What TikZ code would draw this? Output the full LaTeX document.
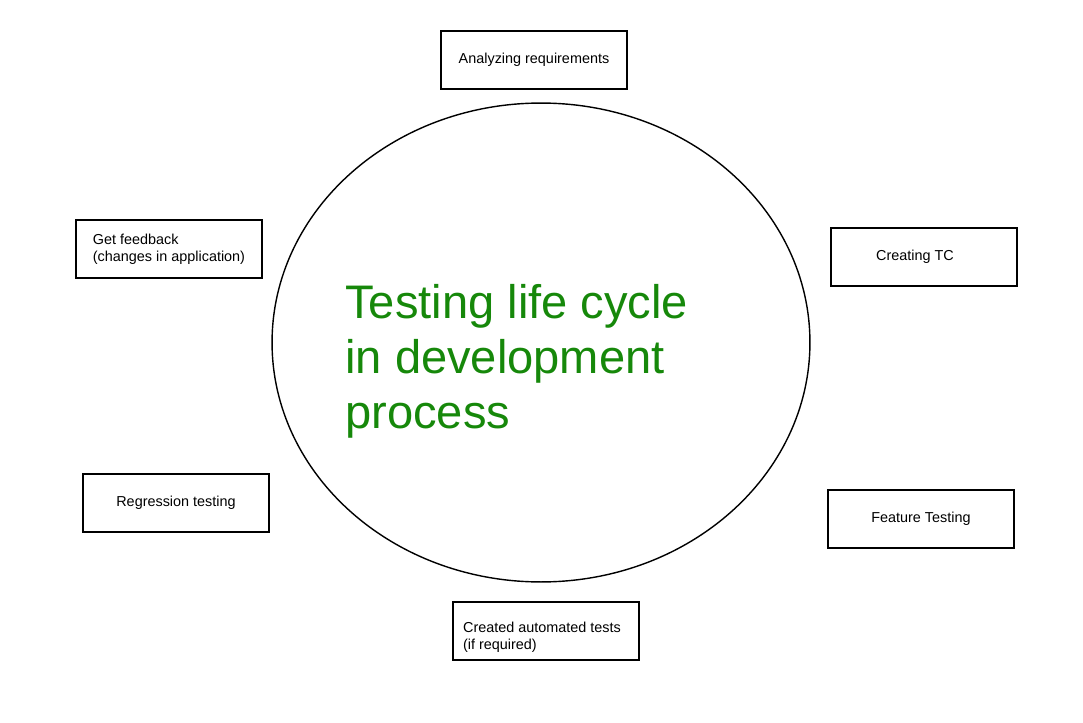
\documentclass[tikz,border=0pt]{standalone}
\usepackage{fontspec}
\setmainfont{Liberation Sans}
\usetikzlibrary{shapes.geometric}
\definecolor{lifegreen}{RGB}{22,136,10}

\begin{document}
\begin{tikzpicture}[
x=0.02cm, y=-0.02cm,
stagebox/.style={rectangle, draw, line width=1pt, minimum width=3.72cm, minimum height=1.16cm, align=left, font=\fontsize{8.2}{9.7}\selectfont},
stagetext/.style={align=left, inner sep=0pt, font=\fontsize{8.2}{9.7}\selectfont},
cycle/.style={ellipse, draw, line width=0.8pt, minimum width=10.76cm, minimum height=9.58cm}
]
\useasboundingbox (0,0) rectangle (1083,723);

\node[cycle] (lifecycle) at (541,342.5) {};
\node[anchor=west, inner sep=0pt, align=left, text=lifegreen, font=\fontsize{26.8}{31.3}\selectfont] (title) at (345,361) {Testing life cycle\\in development\\process};

\node[stagebox] (analyze) at (534,60) {Analyzing requirements};
\node[stagebox, label={[stagetext, xshift=-0.18cm]center:Creating TC}] (creatingtc) at (924,257) {};
\node[stagebox] (feature) at (921,519) {Feature Testing};
\node[stagebox, label={[stagetext, xshift=-0.08cm, yshift=-0.12cm]center:Created automated tests\\(if required)}] (automated) at (546,631) {};
\node[stagebox] (regression) at (176,503) {Regression testing};
\node[stagebox] (feedback) at (169,249) {Get feedback\\(changes in application)};

\end{tikzpicture}
\end{document}
